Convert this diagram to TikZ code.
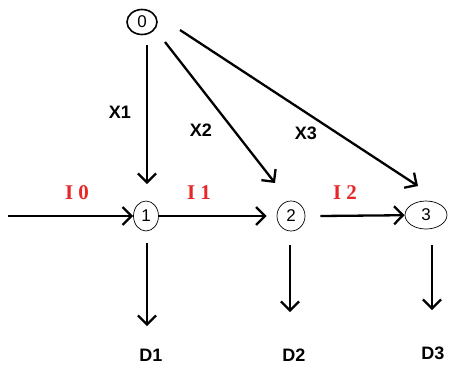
\documentclass[tikz,border=0pt]{standalone}
\usepackage{fontspec}
\setmainfont{Liberation Sans}
\newfontfamily\serifb{Liberation Serif}
\usetikzlibrary{arrows.meta,shapes.geometric}
\definecolor{lblred}{RGB}{230,40,40}
\begin{document}
\begin{tikzpicture}[x=1pt,y=-1pt,
  conn/.style={line width=2.3pt,-{Straight Barb[length=9pt,width=18pt,line width=2.3pt]}},
  st/.style={draw,ellipse,line width=0.7pt,inner sep=0pt,minimum width=25pt,minimum height=30pt,font=\fontsize{17}{17}\selectfont},
  xl/.style={font=\fontsize{18}{18}\selectfont\bfseries},
  il/.style={font=\fontsize{21}{21}\selectfont\serifb\bfseries,text=lblred}]
\useasboundingbox (0,0) rectangle (451,368);
\node[st,minimum width=30pt,minimum height=25pt,line width=1.6pt] (n0) at (142,22) {0};
\node[st] (n1) at (146,216) {1};
\node[st,minimum width=28pt] (n2) at (291,216) {2};
\node[st,minimum width=42pt,minimum height=28pt] (n3) at (426,215) {3};
\coordinate (in) at (8,216);
\coordinate (d1a) at (147,243);
\coordinate (d1) at (147,326);
\coordinate (d2a) at (290,245);
\coordinate (d2) at (290,312);
\coordinate (d3a) at (432,245);
\coordinate (d3) at (432,310);
\node[xl] (D1) at (151,355) {D1};
\node[xl] (D2) at (294,355) {D2};
\node[xl] (D3) at (433,353) {D3};
\draw[conn] (147,45) -- (147,184);
\draw[conn] (165,42) -- (275,183);
\draw[conn] (180,30) -- (418,186);
\draw[conn] (in) -- (n1);
\draw[conn] (n1) -- ([xshift=-10pt]n2.west);
\draw[conn] ([xshift=15pt]n2.east) -- (n3);
\draw[conn] (d1a) -- (d1);
\draw[conn] (d2a) -- (d2);
\draw[conn] (d3a) -- (d3);
\node[xl] (X1) at (120,112) {X1};
\node[xl] (X2) at (201,130) {X2};
\node[xl] (X3) at (306,133) {X3};
\node[il] (I0) at (77,193) {I 0};
\node[il] (I1) at (199,193) {I 1};
\node[il] (I2) at (345,193) {I 2};
\end{tikzpicture}
\end{document}
